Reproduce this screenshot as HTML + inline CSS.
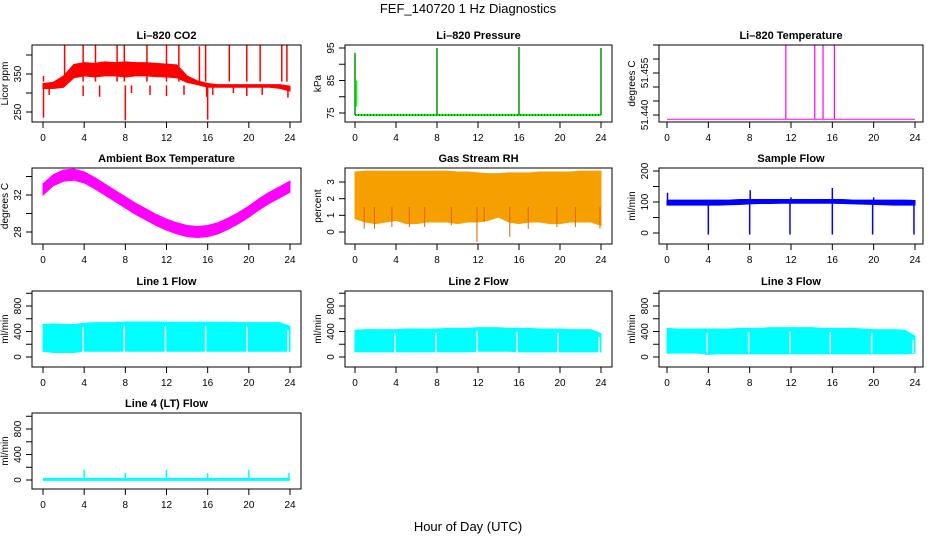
<!DOCTYPE html>
<html><head><meta charset="utf-8"><style>
body{margin:0;background:#fff}
svg text{font-family:"Liberation Sans",sans-serif}
</style></head><body>
<svg id="chart" width="936" height="540" viewBox="0 0 936 540" xmlns="http://www.w3.org/2000/svg">
<rect width="936" height="540" fill="#fff"/>
<text x="468" y="13" font-size="13" text-anchor="middle">FEF_140720  1 Hz Diagnostics</text>
<text x="468" y="531" font-size="13" text-anchor="middle">Hour of Day (UTC)</text>
<g id="plots"></g>
</svg>
<script>
// ---- data ----
const xTicks = [0,4,8,12,16,20,24];
const hours = [0,1,2,3,4,5,6,7,8,9,10,11,12,13,14,15,16,17,18,19,20,21,22,23,24];

const co2Upper = [325,328,345,375,380,378,382,380,382,380,380,378,376,374,345,332,325,322,322,322,322,322,322,322,318];
const co2Lower = [312,312,315,340,345,342,345,345,342,345,345,343,342,340,328,322,315,315,315,315,315,315,315,312,305];
const co2SpikeT = [0.05,2.1,3.9,5.1,7.2,7.9,10.1,12.0,13.2,15.2,15.8,18.1,19.8,21.1,23.2,23.7];
const co2SpikeV = [345,425,425,425,425,425,425,425,425,423,425,425,425,425,425,425];
const co2DipT = [0.05,0.6,3.9,5.5,8.0,8.6,10.4,12.0,13.7,15.9,16.0,16.5,18.5,19.8,21.3,23.8];
const co2DipV = [235,295,292,290,228,300,295,292,295,290,230,295,300,292,295,288];

const presBase = 74.4;
const presSpikeT = [0.0,8.0,16.0,24.0];
const presSpikeV = [93.5,95,95.3,95];

const tempBase = 51.4385;
const tempSpikeT = [11.5,14.3,15.1,16.2];
const tempSpikeV = [51.465,51.465,51.465,51.465];

const ambCenter = [32.6,33.6,34.1,34.2,33.9,33.3,32.6,31.9,31.2,30.5,29.9,29.3,28.8,28.4,28.1,28.0,28.1,28.4,28.9,29.5,30.2,31.0,31.7,32.3,32.9];
const ambHalf = 0.6;

const rhUpper = [3.6,3.65,3.65,3.65,3.65,3.65,3.65,3.65,3.65,3.65,3.6,3.6,3.55,3.5,3.5,3.55,3.55,3.55,3.6,3.6,3.6,3.6,3.65,3.65,3.65];
const rhLower = [0.8,0.6,0.5,0.6,0.7,0.5,0.5,0.6,0.6,0.6,0.5,0.6,0.6,0.7,0.9,0.6,0.5,0.6,0.6,0.5,0.5,0.6,0.6,0.6,0.4];
const rhDipT = [0.9,1.9,3.6,5.3,6.8,9.4,11.9,12.6,15.1,16.9,19.7,21.5,23.9];
const rhDipV = [0.2,0.2,0.3,0.3,0.3,0.4,-0.6,0.6,-0.3,0.2,0.3,0.3,0.2];

const sfUpper = [106,106,106,106,106,106,106,108,108,108,108,108,108,108,108,108,108,108,106,106,106,106,106,106,105];
const sfLower = [90,90,90,90,90,90,91,92,94,95,95,96,96,96,96,96,96,95,94,93,92,91,90,90,90];
const sfDipT = [4.0,8.0,11.9,16.0,19.9,23.9];
const sfDipV = [-5,-5,-5,-5,-5,-5];
const sfPeakT = [0.05,8.05,12.0,16.0,20.0];
const sfPeakV = [130,138,115,145,115];

const l1Upper = [510,520,510,510,530,540,540,540,550,550,550,550,545,545,545,545,545,545,545,540,540,540,540,540,480];
const l1Lower = [90,70,70,70,90,90,90,90,90,90,90,90,90,90,90,90,90,90,90,90,90,90,90,90,90];
const l2Upper = [420,430,430,430,430,440,440,440,440,450,450,450,460,460,460,450,450,450,440,440,440,430,430,430,370];
const l2Lower = [80,80,80,80,80,80,80,80,80,80,80,80,90,90,90,90,80,80,80,80,80,80,80,80,80];
const l3Upper = [450,440,440,440,440,440,440,450,450,450,460,460,460,460,460,450,450,450,450,440,430,430,430,420,330];
const l3Lower = [60,60,60,60,40,50,50,50,50,50,50,50,50,50,50,50,50,50,50,50,50,50,50,50,60];
const flowGapT = [3.9,7.9,11.9,15.8,19.8,23.8];

const l4Base = 10;
const l4SpikeT = [4.0,8.0,12.0,16.0,20.0,23.9];
const l4SpikeV = [160,110,160,110,160,110];

// ---- layout ----
const NS = 'http://www.w3.org/2000/svg';
const root = document.getElementById('plots');
const cols = [{bx0:32,bx1:301,ax0:43,ax1:290},{bx0:345,bx1:612,ax0:355,ax1:601},{bx0:659,bx1:923,ax0:667,ax1:915}];
const rows = [{by0:45,by1:122},{by0:168,by1:244},{by0:291,by1:367},{by0:413,by1:489}];

function mk(tag, attrs, parent){
  const e = document.createElementNS(NS, tag);
  for (const k in attrs) e.setAttribute(k, attrs[k]);
  (parent||root).appendChild(e);
  return e;
}

function panel(name, title, r, c, yref, yticks, ylabels, ylab){
  const g = mk('g', {});
  
  
  const C = cols[c], R = rows[r];
  const xs = v => C.ax0 + (C.ax1 - C.ax0) * v / 24;
  const k = (yref[3] - yref[1]) / (yref[2] - yref[0]);
  const ys = v => yref[1] + (v - yref[0]) * k;
  const t = mk('text', {x:(C.bx0+C.bx1)/2, y:R.by0-6, 'font-size':11, 'font-weight':'bold', 'text-anchor':'middle'}, g);
  
  
  t.textContent = title;
  const marks = mk('g', {}, g);
  
  
  const b = mk('rect', {x:C.bx0, y:R.by0, width:C.bx1-C.bx0, height:R.by1-R.by0, fill:'none', stroke:'#000', 'stroke-width':1}, g);
  
  
  const xa = mk('g', {}, g);
  
  
  xTicks.forEach(v => {
    mk('line', {x1:xs(v), x2:xs(v), y1:R.by1, y2:R.by1+6, stroke:'#000'}, xa);
    const tl = mk('text', {x:xs(v), y:R.by1+19, 'font-size':10, 'text-anchor':'middle'}, xa);
    
    
    tl.textContent = v;
  });
  const ya = mk('g', {}, g);
  
  
  yticks.forEach(v => mk('line', {x1:C.bx0-6, x2:C.bx0, y1:ys(v), y2:ys(v), stroke:'#000'}, ya));
  ylabels.forEach(v => {
    const tx = C.bx0 - 11, ty = ys(v);
    const tl = mk('text', {x:tx, y:ty, 'font-size':10, 'text-anchor':'middle', transform:`rotate(-90 ${tx} ${ty})`}, ya);
    
    
    tl.textContent = v;
  });
  const lx = C.bx0 - 24, ly = (R.by0 + R.by1) / 2;
  const yl = mk('text', {x:lx, y:ly, 'font-size':10, 'text-anchor':'middle', transform:`rotate(-90 ${lx} ${ly})`}, g);
  
  
  yl.textContent = ylab;
  return {xs, ys, g:marks};
}

function band(p, up, lo, color){
  let d = hours.map((h,i)=>`${i?'L':'M'}${p.xs(h)},${p.ys(up[i])}`).join('');
  for (let i = hours.length-1; i >= 0; i--) d += `L${p.xs(hours[i])},${p.ys(lo[i])}`;
  mk('path', {d:d+'Z', fill:color, stroke:color, 'stroke-width':1}, p.g);
}
function vlines(p, ts, vs, from, color, w){
  ts.forEach((t,i)=>mk('line', {x1:p.xs(t), x2:p.xs(t), y1:p.ys(from), y2:p.ys(vs[i]), stroke:color, 'stroke-width':w||1}, p.g));
}
function gaps(p, up){
  flowGapT.forEach(t=>{
    const i = Math.round(t);
    mk('line', {x1:p.xs(t), x2:p.xs(t), y1:p.ys(up[i]-60), y2:p.ys(60), stroke:'#fff', 'stroke-width':1.5}, p.g);
  });
}

let p = panel('co2','Li\u2013820 CO2',0,0,[250,112,350,74],[250,300,350,400],[250,350],'Licor ppm');
band(p, co2Upper, co2Lower, '#ff0000');
vlines(p, co2SpikeT, co2SpikeV, 330, '#ff0000', 1.5);
vlines(p, co2DipT, co2DipV, 320, '#ff0000', 1.5);

p = panel('pressure','Li\u2013820 Pressure',0,1,[75,113,95,48],[75,80,85,90,95],[75,85,95],'kPa');
mk('line', {x1:p.xs(0), x2:p.xs(24), y1:p.ys(presBase), y2:p.ys(presBase), stroke:'#00ff00', 'stroke-width':2}, p.g);
mk('line', {x1:p.xs(0), x2:p.xs(24), y1:p.ys(presBase), y2:p.ys(presBase), stroke:'#000', 'stroke-width':1, 'stroke-dasharray':'1 2'}, p.g);
vlines(p, presSpikeT, presSpikeV, presBase, '#00ff00', 1.5);
vlines(p, presSpikeT, presSpikeV, presBase, '#000', 0.6);
mk('line', {x1:p.xs(0.15), x2:p.xs(0.15), y1:p.ys(77), y2:p.ys(85), stroke:'#00ff00', 'stroke-width':1.5}, p.g);

p = panel('li820-temp','Li\u2013820 Temperature',0,2,[51.440,115,51.465,45],[51.440,51.445,51.450,51.455,51.460,51.465],['51.440','51.455'],'degrees C');
mk('line', {x1:p.xs(0), x2:p.xs(24), y1:p.ys(tempBase), y2:p.ys(tempBase), stroke:'#ff00ff', 'stroke-width':1}, p.g);
vlines(p, tempSpikeT, tempSpikeV, tempBase, '#ff00ff', 1.2);

p = panel('ambient-temp','Ambient Box Temperature',1,0,[28,232,32,195],[28,30,32,34],[28,32],'degrees C');
band(p, ambCenter.map(v=>v+ambHalf), ambCenter.map(v=>v-ambHalf), '#ff00ff');

p = panel('gas-rh','Gas Stream RH',1,1,[0,232,3,182],[0,1,2,3],[0,1,2,3],'percent');
band(p, rhUpper, rhLower, '#f5a000');
vlines(p, rhDipT, rhDipV, 1.5, '#e06000', 1);

p = panel('sample-flow','Sample Flow',1,2,[0,233,200,171],[0,50,100,150,200],[0,100,200],'ml/min');
band(p, sfUpper, sfLower, '#0000ff');
vlines(p, sfDipT, sfDipV, 95, '#0000ff', 1.5);
vlines(p, sfPeakT, sfPeakV, 100, '#0000ff', 1.5);

const flowTicks = [0,200,400,600,800,1000], flowLabels = [0,400,800];
p = panel('line1-flow','Line 1 Flow',2,0,[0,357,800,306],flowTicks,flowLabels,'ml/min');
band(p, l1Upper, l1Lower, '#00ffff'); gaps(p, l1Upper);
p = panel('line2-flow','Line 2 Flow',2,1,[0,357,800,306],flowTicks,flowLabels,'ml/min');
band(p, l2Upper, l2Lower, '#00ffff'); gaps(p, l2Upper);
p = panel('line3-flow','Line 3 Flow',2,2,[0,357,800,306],flowTicks,flowLabels,'ml/min');
band(p, l3Upper, l3Lower, '#00ffff'); gaps(p, l3Upper);
p = panel('line4-flow','Line 4 (LT) Flow',3,0,[0,480,800,429],flowTicks,flowLabels,'ml/min');
mk('line', {x1:p.xs(0), x2:p.xs(24), y1:p.ys(l4Base), y2:p.ys(l4Base), stroke:'#00ffff', 'stroke-width':3}, p.g);
vlines(p, l4SpikeT, l4SpikeV, l4Base, '#00ffff', 1.5);
</script>
</body></html>
